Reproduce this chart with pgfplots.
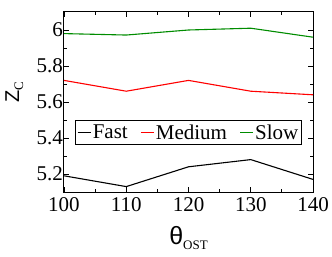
\documentclass[border=0pt]{standalone}
\usepackage{fontspec}
\setmainfont{Liberation Serif}
\newfontfamily\sansf{Liberation Sans}
\usepackage{pgfplots}
\pgfplotsset{compat=1.18}
\definecolor{mygreen}{RGB}{0,140,0}
\definecolor{myred}{RGB}{255,0,0}
\begin{document}
\begin{tikzpicture}
\useasboundingbox (-64bp,-65bp) rectangle (268bp,192bp);
\begin{axis}[
  at={(0,0)}, anchor=south west,
  scale only axis, width=249bp, height=180bp,
  xmin=100, xmax=140, ymin=5.1, ymax=6.1,
  xtick={100,110,120,130,140}, ytick={5.2,5.4,5.6,5.8,6},
  minor x tick num=1, minor y tick num=1,
  tick align=inside, major tick length=5bp, minor tick length=3bp,
  tick style={black, line width=0.8bp},
  axis line style={line width=1bp},
  /pgf/number format/assume math mode=true,
  tick label style={font=\fontsize{21bp}{24bp}\selectfont},
  yticklabel style={/pgf/number format/fixed, /pgf/number format/precision=1, inner xsep=1bp},
  xticklabel style={inner ysep=2bp, yshift=-3bp},
  xlabel={{\sansf\fontsize{25bp}{25bp}\selectfont θ}\raisebox{-5bp}{\fontsize{13bp}{13bp}\selectfont OST}},
  xlabel style={at={(axis description cs:0.5,0)}, anchor=base, yshift=-52bp},
  ylabel={{\sansf\fontsize{20bp}{20bp}\selectfont Z}\raisebox{-4bp}{\fontsize{13bp}{13bp}\selectfont C}},
  ylabel style={at={(axis description cs:-0.2,0.555)}, anchor=center},
  legend columns=-1,
  legend image code/.code={\draw[#1] (0bp,0bp) -- (13bp,0bp);},
  legend style={at={(axis description cs:0.5,0.33)}, anchor=center, draw=black, line width=0.8bp,
    font=\fontsize{21bp}{24bp}\selectfont,
    inner xsep=2bp, inner ysep=2.5bp, nodes={inner sep=1.5bp},
    /tikz/every even column/.append style={column sep=11bp}},
]
\addplot[black, line width=1.1bp] coordinates {(100,5.19) (110,5.13) (120,5.24) (130,5.28) (140,5.17)};
\addlegendentry{Fast}
\addplot[myred, line width=1.1bp] coordinates {(100,5.72) (110,5.66) (120,5.72) (130,5.66) (140,5.64)};
\addlegendentry{Medium}
\addplot[mygreen, line width=1.1bp] coordinates {(100,5.98) (110,5.972) (120,6.0) (130,6.01) (140,5.96)};
\addlegendentry{Slow}
\end{axis}
\end{tikzpicture}
\end{document}
